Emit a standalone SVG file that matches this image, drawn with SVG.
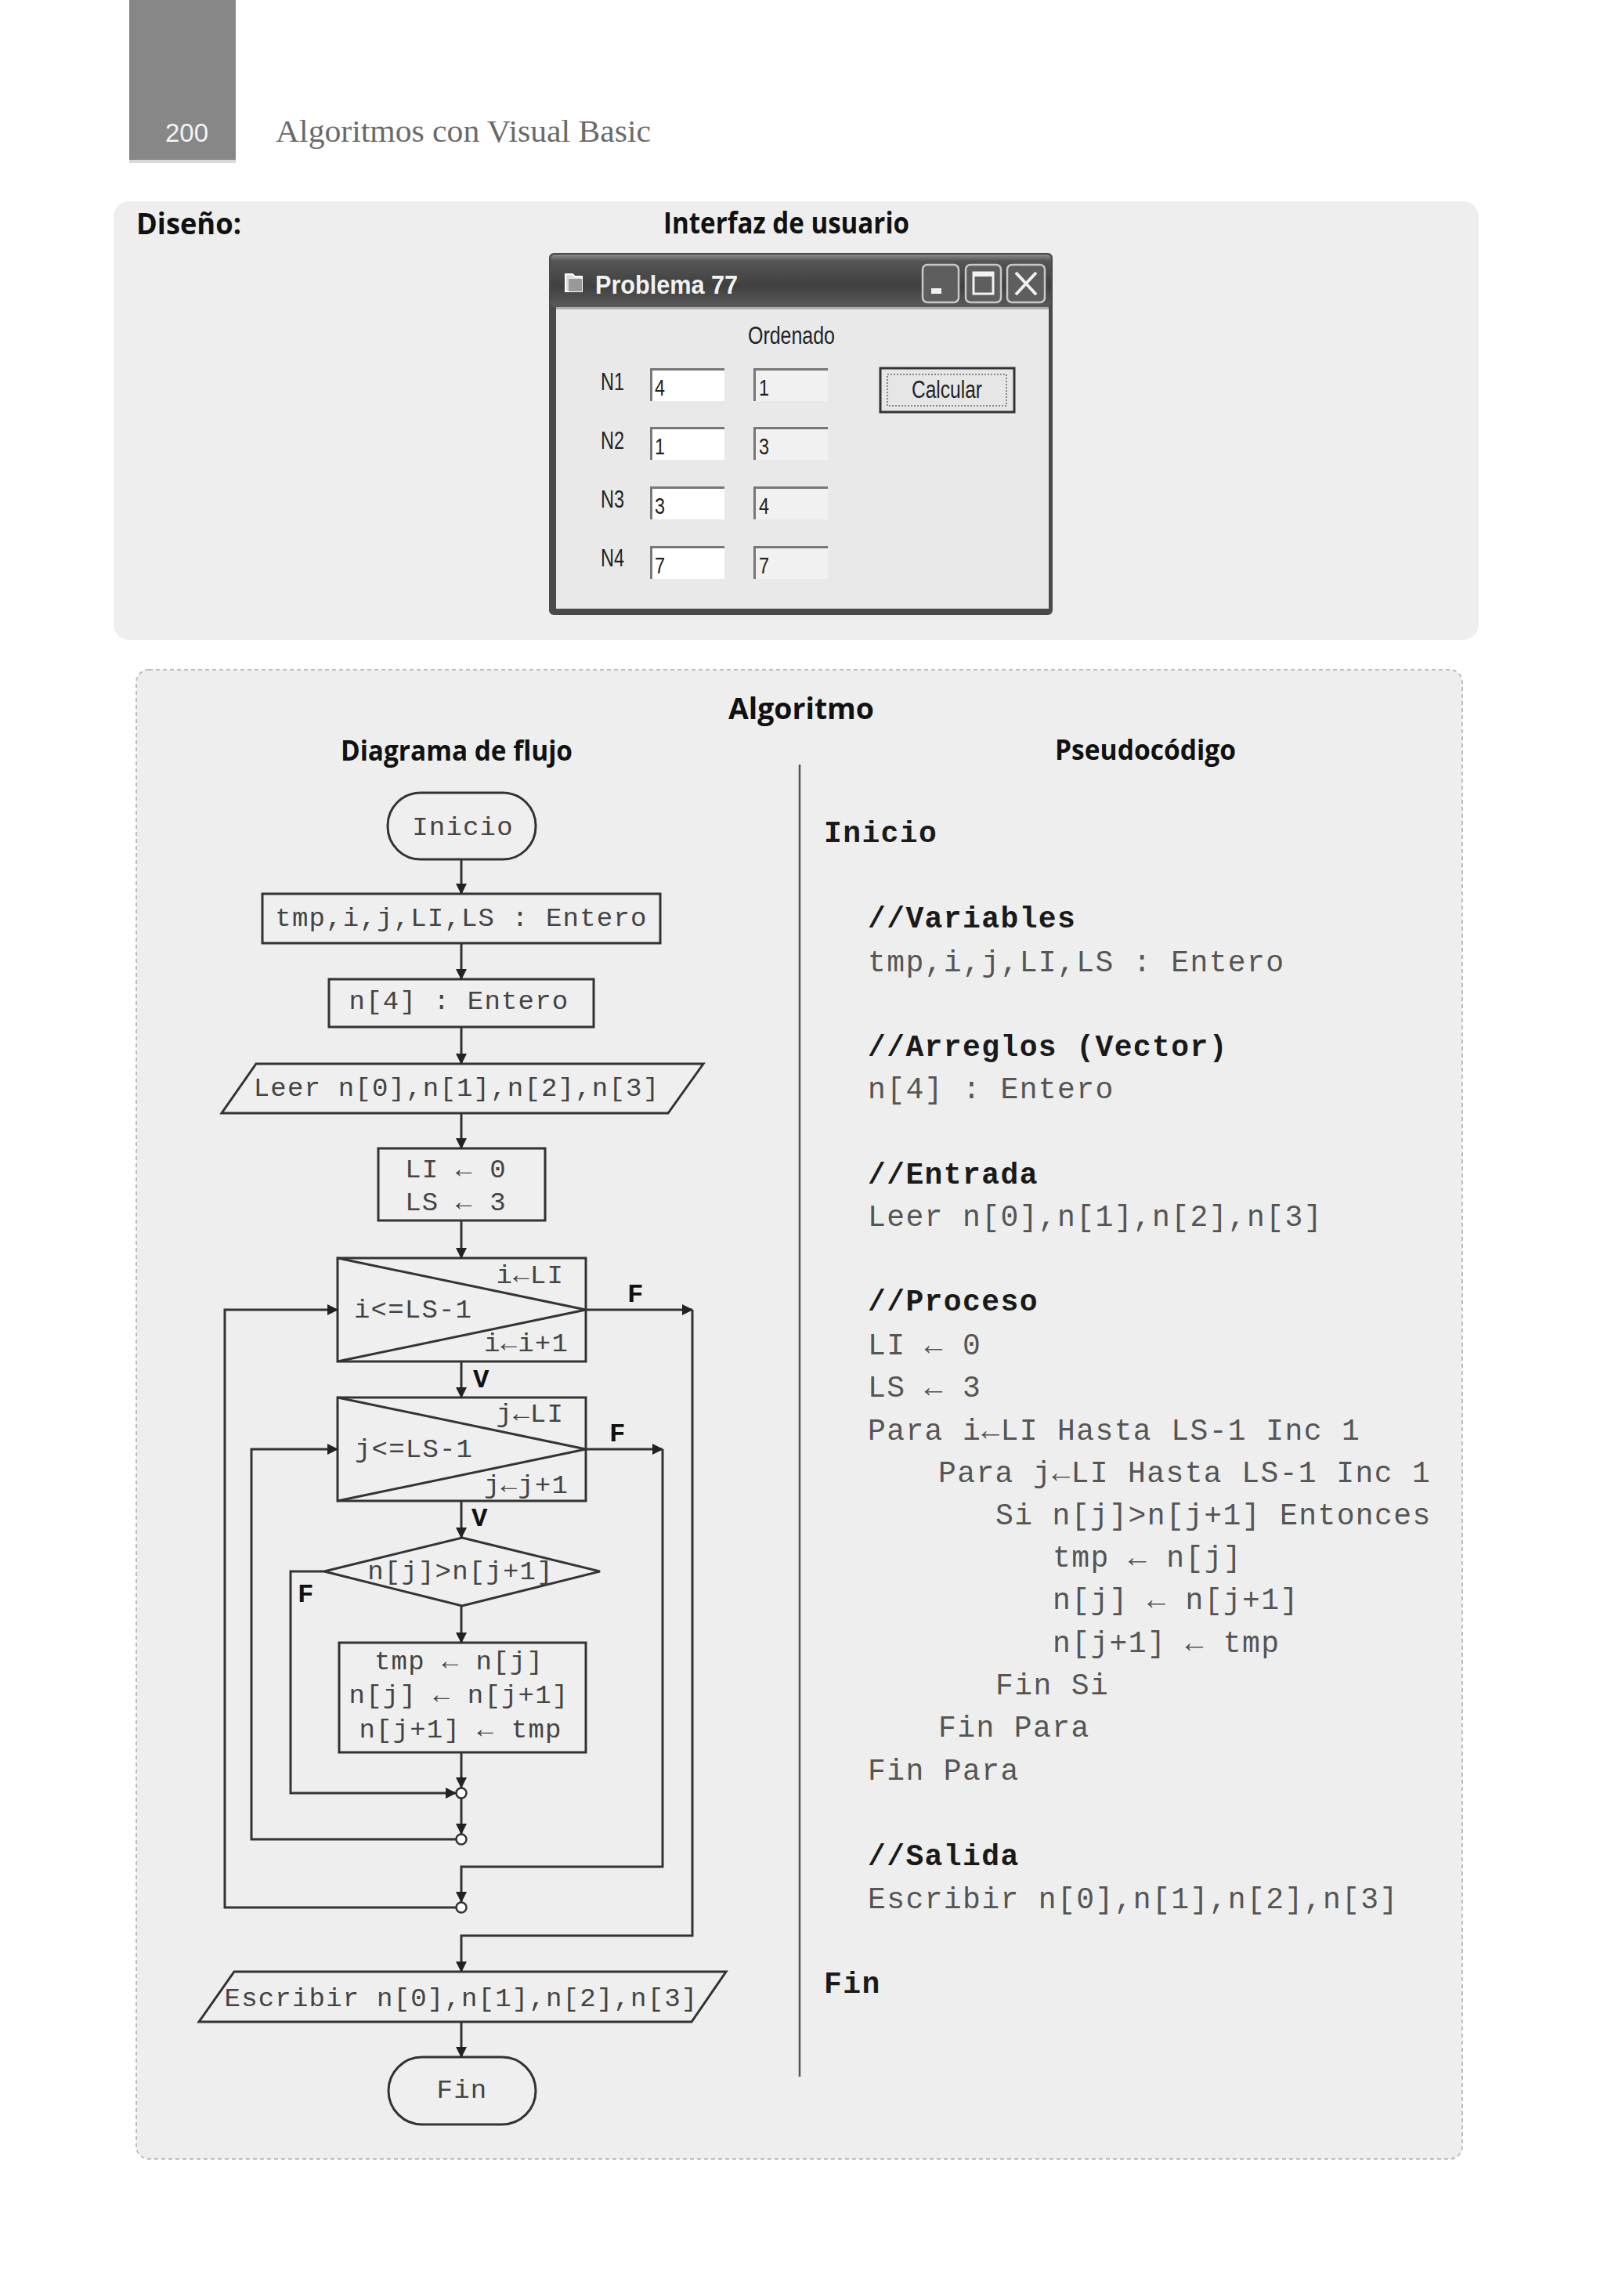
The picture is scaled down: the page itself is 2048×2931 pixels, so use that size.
<svg xmlns="http://www.w3.org/2000/svg" width="2048" height="2931" viewBox="0 0 2048 2931">
<defs>
<marker id="arr" viewBox="0 0 14 14" markerWidth="14" markerHeight="14" refX="13" refY="7" orient="auto" markerUnits="userSpaceOnUse">
<path d="M0,0 L14,7 L0,14 z" fill="#222"/>
</marker>
<linearGradient id="title" x1="0" y1="0" x2="0" y2="1">
<stop offset="0" stop-color="#8c8c8c"/>
<stop offset="0.12" stop-color="#555"/>
<stop offset="0.6" stop-color="#404040"/>
<stop offset="1" stop-color="#5a5a5a"/>
</linearGradient>
<style>
.hdr{font-family:"Open Sans","Liberation Sans",sans-serif;font-weight:700;fill:#111}
.fc{font-family:"Liberation Mono","DejaVu Sans Mono",monospace;font-size:34px;letter-spacing:1.2px;fill:#444}
.fcm{text-anchor:middle}
.lbl{font-family:"Liberation Mono","DejaVu Sans Mono",monospace;font-size:34px;font-weight:700;fill:#111}
.ps{font-family:"Liberation Mono","DejaVu Sans Mono",monospace;font-size:38px;letter-spacing:1.4px;fill:#555}
.psb{font-family:"Liberation Mono","DejaVu Sans Mono",monospace;font-size:38px;letter-spacing:1.4px;font-weight:700;fill:#1a1a1a}
.shape{fill:#efefef;stroke:#333;stroke-width:3}
.ui{font-family:"Liberation Sans","DejaVu Sans",sans-serif;font-size:31px;fill:#222}
.val{font-family:"Liberation Sans","DejaVu Sans",sans-serif;font-size:29px;fill:#222}
.tb{fill:none;stroke:#777;stroke-width:3}
</style>
</defs>
<rect width="2048" height="2931" fill="#ffffff"/>

<!-- page header -->
<g id="header">
<rect x="165" y="0" width="136" height="204" fill="#878787"/>
<rect x="165" y="204" width="136" height="4" fill="#d8d8d8"/>
<text x="211" y="181" font-family="Liberation Sans, sans-serif" font-size="34" fill="#f4f4f4" textLength="55" lengthAdjust="spacingAndGlyphs">200</text>
<text x="352" y="181" font-family="Liberation Serif, serif" font-size="40" fill="#6a6a6a" textLength="479" lengthAdjust="spacingAndGlyphs">Algoritmos con Visual Basic</text>
</g>

<!-- Diseño panel -->
<g id="diseno">
<rect x="145" y="257" width="1743" height="560" rx="20" fill="#eeeeee"/>
<text class="hdr" x="174" y="299" font-size="38" textLength="134" lengthAdjust="spacingAndGlyphs">Diseño:</text>
<text class="hdr" x="847" y="298" font-size="38" textLength="314" lengthAdjust="spacingAndGlyphs">Interfaz de usuario</text>
</g>

<!-- Window -->
<g id="window">
<rect x="701" y="323" width="643" height="462" rx="6" fill="#4a4a4a"/>
<rect x="703" y="325" width="639" height="67" rx="5" fill="url(#title)"/>
<rect x="710" y="392" width="629" height="385" fill="#e9e9e9"/>
<rect x="710" y="392" width="629" height="3" fill="#b0b0b0"/>
<path d="M722,350 h9 l3,3 h9 v19 h-21 z" fill="#ddd" stroke="#fff" stroke-width="2"/>
<path d="M726,356 h17 v16 h-17 z" fill="#999"/>
<text x="760" y="375" font-family="Liberation Sans, sans-serif" font-size="33" font-weight="700" fill="#f2f2f2" textLength="182" lengthAdjust="spacingAndGlyphs">Problema 77</text>
<rect x="1178" y="338" width="46" height="48" rx="6" fill="#5e5e5e" stroke="#c8c8c8" stroke-width="2.5"/>
<rect x="1189" y="368" width="13" height="7" fill="#f2f2f2"/>
<rect x="1233" y="338" width="45" height="48" rx="6" fill="#5e5e5e" stroke="#c8c8c8" stroke-width="2.5"/>
<rect x="1243" y="348" width="25" height="27" fill="none" stroke="#f2f2f2" stroke-width="3"/>
<rect x="1243" y="348" width="25" height="5" fill="#f2f2f2"/>
<rect x="1286" y="338" width="48" height="48" rx="6" fill="#5e5e5e" stroke="#c8c8c8" stroke-width="2.5"/>
<path d="M1297,348 L1323,376 M1323,348 L1297,376" stroke="#f2f2f2" stroke-width="4"/>
<text class="ui" x="955" y="439" textLength="111" lengthAdjust="spacingAndGlyphs">Ordenado</text>
<text class="ui" x="767" y="498" textLength="30" lengthAdjust="spacingAndGlyphs">N1</text>
<text class="ui" x="767" y="573" textLength="30" lengthAdjust="spacingAndGlyphs">N2</text>
<text class="ui" x="767" y="648" textLength="30" lengthAdjust="spacingAndGlyphs">N3</text>
<text class="ui" x="767" y="723" textLength="30" lengthAdjust="spacingAndGlyphs">N4</text>
<g id="inputs">
<rect x="830" y="470" width="95" height="42" fill="#ffffff"/>
<path class="tb" d="M831.5,512 V471.5 H925"/>
<rect x="962" y="470" width="95" height="42" fill="#f1f1f1"/>
<path class="tb" d="M963.5,512 V471.5 H1057"/>
<rect x="830" y="545" width="95" height="42" fill="#ffffff"/>
<path class="tb" d="M831.5,587 V546.5 H925"/>
<rect x="962" y="545" width="95" height="42" fill="#f1f1f1"/>
<path class="tb" d="M963.5,587 V546.5 H1057"/>
<rect x="830" y="621" width="95" height="42" fill="#ffffff"/>
<path class="tb" d="M831.5,663 V622.5 H925"/>
<rect x="962" y="621" width="95" height="42" fill="#f1f1f1"/>
<path class="tb" d="M963.5,663 V622.5 H1057"/>
<rect x="830" y="697" width="95" height="42" fill="#ffffff"/>
<path class="tb" d="M831.5,739 V698.5 H925"/>
<rect x="962" y="697" width="95" height="42" fill="#f1f1f1"/>
<path class="tb" d="M963.5,739 V698.5 H1057"/>
<text class="val" x="836" y="505" textLength="13" lengthAdjust="spacingAndGlyphs">4</text>
<text class="val" x="969" y="505" textLength="13" lengthAdjust="spacingAndGlyphs">1</text>
<text class="val" x="836" y="580" textLength="13" lengthAdjust="spacingAndGlyphs">1</text>
<text class="val" x="969" y="580" textLength="13" lengthAdjust="spacingAndGlyphs">3</text>
<text class="val" x="836" y="656" textLength="13" lengthAdjust="spacingAndGlyphs">3</text>
<text class="val" x="969" y="656" textLength="13" lengthAdjust="spacingAndGlyphs">4</text>
<text class="val" x="836" y="732" textLength="13" lengthAdjust="spacingAndGlyphs">7</text>
<text class="val" x="969" y="732" textLength="13" lengthAdjust="spacingAndGlyphs">7</text>
</g>
<rect x="1124" y="470" width="171" height="56" fill="#e6e6e6" stroke="#333" stroke-width="3"/>
<rect x="1133" y="478" width="152" height="40" fill="none" stroke="#666" stroke-width="1.5" stroke-dasharray="2 2"/>
<text class="ui" x="1164" y="508" textLength="90" lengthAdjust="spacingAndGlyphs">Calcular</text>
</g>

<!-- Algoritmo panel -->
<g id="algoritmo">
<rect x="174" y="855" width="1693" height="1901" rx="16" fill="#eeeeee" stroke="#bdbdbd" stroke-width="2" stroke-dasharray="5 4"/>
<text class="hdr" x="930" y="918" font-size="38" textLength="186" lengthAdjust="spacingAndGlyphs">Algoritmo</text>
<text class="hdr" x="435" y="971" font-size="36" textLength="296" lengthAdjust="spacingAndGlyphs">Diagrama de flujo</text>
<text class="hdr" x="1347" y="970" font-size="36" textLength="231" lengthAdjust="spacingAndGlyphs">Pseudocódigo</text>
<line x1="1021" y1="976" x2="1021" y2="2651" stroke="#555" stroke-width="2.5"/>
</g>

<!-- Flowchart nodes -->
<g id="inicio">
<rect class="shape" x="495" y="1012" width="189" height="85" rx="42" ry="42"/>
<text class="fc fcm" x="591" y="1066">Inicio</text>
</g>
<g id="decl-vars">
<rect class="shape" x="335" y="1141" width="508" height="63"/>
<text class="fc fcm" x="589" y="1182">tmp,i,j,LI,LS : Entero</text>
</g>
<g id="decl-arr">
<rect class="shape" x="420" y="1250" width="338" height="61"/>
<text class="fc fcm" x="586" y="1288">n[4] : Entero</text>
</g>
<g id="leer">
<polygon class="shape" points="327,1358 898,1358 853,1421 283,1421"/>
<text class="fc fcm" x="583" y="1399">Leer n[0],n[1],n[2],n[3]</text>
</g>
<g id="init">
<rect class="shape" x="483" y="1466" width="213" height="92"/>
<text class="fc fcm" x="582" y="1503">LI ← 0</text>
<text class="fc fcm" x="582" y="1545">LS ← 3</text>
</g>
<g id="for-i">
<rect class="shape" x="431" y="1606" width="317" height="132"/>
<path d="M431,1606 L748,1672 L431,1738" fill="none" stroke="#333" stroke-width="3"/>
<text class="fc" x="720" y="1638" text-anchor="end">i←LI</text>
<text class="fc" x="452" y="1682">i&lt;=LS-1</text>
<text class="fc" x="726" y="1725" text-anchor="end">i←i+1</text>
</g>
<g id="for-j">
<rect class="shape" x="431" y="1784" width="317" height="132"/>
<path d="M431,1784 L748,1850 L431,1916" fill="none" stroke="#333" stroke-width="3"/>
<text class="fc" x="720" y="1815" text-anchor="end">j←LI</text>
<text class="fc" x="453" y="1860">j&lt;=LS-1</text>
<text class="fc" x="726" y="1906" text-anchor="end">j←j+1</text>
</g>
<g id="si">
<polygon class="shape" points="590,1963 766,2006 590,2050 414,2006"/>
<text class="fc fcm" x="588" y="2016">n[j]&gt;n[j+1]</text>
</g>
<g id="swap">
<rect class="shape" x="433" y="2097" width="315" height="140"/>
<text class="fc fcm" x="586" y="2131">tmp ← n[j]</text>
<text class="fc fcm" x="586" y="2174">n[j] ← n[j+1]</text>
<text class="fc fcm" x="588" y="2218">n[j+1] ← tmp</text>
</g>
<g id="junctions" fill="#ffffff" stroke="#333" stroke-width="2.5">
<circle cx="589" cy="2289" r="6.5"/>
<circle cx="589" cy="2348" r="6.5"/>
<circle cx="589" cy="2435" r="6.5"/>
</g>
<g id="escribir">
<polygon class="shape" points="299,2517 927,2517 883,2581 254,2581"/>
<text class="fc fcm" x="589" y="2561">Escribir n[0],n[1],n[2],n[3]</text>
</g>
<g id="fin">
<rect class="shape" x="496" y="2626" width="188" height="86" rx="43" ry="43"/>
<text class="fc fcm" x="590" y="2678">Fin</text>
</g>

<!-- Connectors -->
<g id="connectors" fill="none" stroke="#333" stroke-width="3">
<path d="M589,1097 V1141" marker-end="url(#arr)"/>
<path d="M589,1204 V1250" marker-end="url(#arr)"/>
<path d="M589,1311 V1358" marker-end="url(#arr)"/>
<path d="M589,1421 V1466" marker-end="url(#arr)"/>
<path d="M589,1558 V1606" marker-end="url(#arr)"/>
<path d="M589,1738 V1784" marker-end="url(#arr)"/>
<path d="M589,1916 V1963" marker-end="url(#arr)"/>
<path d="M589,2050 V2097" marker-end="url(#arr)"/>
<path d="M589,2237 V2282" marker-end="url(#arr)"/>
<path d="M414,2006 H371 V2289 H582" marker-end="url(#arr)"/>
<path d="M589,2296 V2341" marker-end="url(#arr)"/>
<path d="M582,2348 H321 V1850 H431" marker-end="url(#arr)"/>
<path d="M748,1850 H846" marker-end="url(#arr)"/>
<path d="M846,1850 V2383 H589 V2428" marker-end="url(#arr)"/>
<path d="M582,2435 H287 V1672 H431" marker-end="url(#arr)"/>
<path d="M748,1672 H884" marker-end="url(#arr)"/>
<path d="M884,1672 V2471 H589 V2517" marker-end="url(#arr)"/>
<path d="M589,2581 V2626" marker-end="url(#arr)"/>
</g>
<g id="labels">
<text class="lbl" x="801" y="1662">F</text>
<text class="lbl" x="778" y="1840">F</text>
<text class="lbl" x="604" y="1771">V</text>
<text class="lbl" x="602" y="1948">V</text>
<text class="lbl" x="380" y="2045">F</text>
</g>

<!-- Pseudocode -->
<g id="pseudocodigo">
<text class="psb" x="1052" y="1075">Inicio</text>
<text class="psb" x="1108" y="1184">//Variables</text>
<text class="ps" x="1108" y="1240">tmp,i,j,LI,LS : Entero</text>
<text class="psb" x="1108" y="1348">//Arreglos (Vector)</text>
<text class="ps" x="1108" y="1402">n[4] : Entero</text>
<text class="psb" x="1108" y="1511">//Entrada</text>
<text class="ps" x="1108" y="1565">Leer n[0],n[1],n[2],n[3]</text>
<text class="psb" x="1108" y="1673">//Proceso</text>
<text class="ps" x="1108" y="1729">LI ← 0</text>
<text class="ps" x="1108" y="1783">LS ← 3</text>
<text class="ps" x="1108" y="1838">Para i←LI Hasta LS-1 Inc 1</text>
<text class="ps" x="1198" y="1892">Para j←LI Hasta LS-1 Inc 1</text>
<text class="ps" x="1271" y="1946">Si n[j]&gt;n[j+1] Entonces</text>
<text class="ps" x="1344" y="2000">tmp ← n[j]</text>
<text class="ps" x="1344" y="2054">n[j] ← n[j+1]</text>
<text class="ps" x="1344" y="2109">n[j+1] ← tmp</text>
<text class="ps" x="1271" y="2163">Fin Si</text>
<text class="ps" x="1198" y="2217">Fin Para</text>
<text class="ps" x="1108" y="2272">Fin Para</text>
<text class="psb" x="1108" y="2381">//Salida</text>
<text class="ps" x="1108" y="2436">Escribir n[0],n[1],n[2],n[3]</text>
<text class="psb" x="1052" y="2544">Fin</text>
</g>
</svg>
